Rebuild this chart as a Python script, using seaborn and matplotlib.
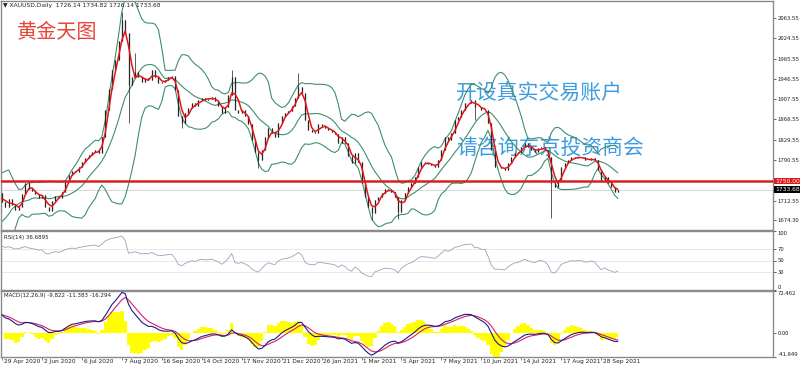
import numpy as np
import pandas as pd
import matplotlib
matplotlib.use("Agg")
import matplotlib.pyplot as plt
import matplotlib.transforms as mtrans
import seaborn as sns

sns.set_theme(style="white")
plt.rcParams['font.family'] = ['Noto Sans CJK SC', 'DejaVu Sans']

# ---------------- data (one value per two trading days) ----------------
# off-screen bars before the first visible bar (seed the indicators)
prior_closes = [1590, 1640, 1673, 1650, 1575, 1510, 1478, 1498, 1555, 1630,
                1620, 1590, 1620, 1648, 1680, 1727, 1717, 1690, 1713, 1727]

closes = [1710, 1700, 1715, 1705, 1694, 1700, 1725, 1746, 1735, 1730,
          1725, 1718, 1724, 1700, 1692, 1712, 1722, 1718, 1729, 1750,
          1762, 1770, 1768, 1778, 1786, 1795, 1800, 1805, 1810, 1804,
          1835, 1887, 1928, 1963, 1983, 2020, 2060, 2035, 1935, 1950,
          1960, 1950, 1940, 1948, 1944, 1963, 1950, 1938, 1940, 1945,
          1950, 1952, 1925, 1875, 1862, 1880, 1890, 1900, 1895, 1905,
          1910, 1906, 1908, 1912, 1904, 1895, 1881, 1893, 1915, 1950,
          1887, 1881, 1887, 1875, 1860, 1829, 1805, 1790, 1810, 1835,
          1852, 1842, 1835, 1862, 1875, 1880, 1885, 1895, 1910, 1931,
          1919, 1867, 1848, 1845, 1842, 1860, 1856, 1852, 1848, 1845,
          1840, 1823, 1835, 1823, 1798, 1784, 1804, 1786, 1746, 1720,
          1700, 1688, 1714, 1720, 1728, 1734, 1733, 1729, 1720, 1690,
          1714, 1727, 1739, 1746, 1758, 1777, 1786, 1785, 1783, 1780,
          1777, 1790, 1810, 1835, 1829, 1842, 1867, 1873, 1887, 1900,
          1900, 1906, 1893, 1893, 1887, 1887, 1862, 1810, 1777, 1777,
          1775, 1771, 1784, 1796, 1804, 1806, 1815, 1823, 1815, 1810,
          1806, 1813, 1815, 1810, 1796, 1746, 1739, 1752, 1777, 1784,
          1790, 1796, 1794, 1796, 1796, 1790, 1790, 1794, 1790, 1771,
          1752, 1758, 1746, 1739, 1729, 1733.68]

# long wicks that stand out in the picture
wick_bar = [36, 38, 40, 54, 69, 77, 89, 111, 119, 142, 165]
wick_end = [2075, 1862, 1996, 1852, 1963, 1775, 1958, 1676, 1678, 1867, 1680]

date_labels = ["29 Apr 2020", "2 Jun 2020", "6 Jul 2020", "7 Aug 2020",
               "16 Sep 2020", "14 Oct 2020", "17 Nov 2020", "21 Dec 2020",
               "26 Jan 2021", "1 Mar 2021", "5 Apr 2021", "7 May 2021",
               "10 Jun 2021", "14 Jul 2021", "17 Aug 2021", "28 Sep 2021"]

price_ticks = [2063.55, 2024.55, 1985.55, 1946.55, 1907.55, 1868.55,
               1829.55, 1790.55, 1712.55, 1674.30]
level_line = 1750.00
last_price = 1733.68
header = "\u25BC XAUUSD,Daily  1726.14 1734.82 1726.14 1733.68"
rsi_title = "RSI(14) 36.6895"
macd_title = "MACD(12,26,9) -9.822 -11.383 -16.294"
rsi_ticks = [100, 70, 50, 30, 0]
macd_top, macd_bottom = 72.462, -41.849

# ---------------- indicators ----------------
npre = len(prior_closes)
full = pd.Series(prior_closes + closes, dtype=float)
idx_full = np.arange(len(full)) - npre
df = pd.DataFrame({"i": idx_full, "close": full})
df["ma"] = full.rolling(3, min_periods=1).mean()
mid = full.rolling(12, min_periods=1).mean()
sd = full.rolling(12, min_periods=1).std(ddof=0)
df["bb_mid"], df["bb_up"], df["bb_lo"] = mid, mid + 2 * sd, mid - 2 * sd
delta = full.diff()
gain = delta.clip(lower=0).ewm(alpha=1 / 14, adjust=False).mean()
loss = (-delta.clip(upper=0)).ewm(alpha=1 / 14, adjust=False).mean()
df["rsi"] = 100 - 100 / (1 + gain / loss)
macd = full.ewm(span=6, adjust=False).mean() - full.ewm(span=13, adjust=False).mean()
signal = macd.ewm(span=4.5, adjust=False).mean()
df["macd"], df["signal"] = macd, signal
df["hist"] = 3 * (macd - signal)
vis = df[df["i"] >= 0].reset_index(drop=True)

# ---------------- figure ----------------
W, H = 800, 369
fig = plt.figure(figsize=(W / 100, H / 100), dpi=100)
fig.patch.set_facecolor("white")

def ax_px(x0, y0, x1, y1):
    return fig.add_axes([x0 / W, 1 - y1 / H, (x1 - x0) / W, (y1 - y0) / H])

ax = ax_px(1, 1, 773, 230)
axr = ax_px(1, 231, 773, 290)
axm = ax_px(1, 291, 773, 357)

XMIN, XMAX = -0.3, 231.6
spine_c = "#8a8a8a"
for a in (ax, axr, axm):
    a.set_facecolor("white")
    a.set_xlim(XMIN, XMAX)
    for s in a.spines.values():
        s.set_color(spine_c)
        s.set_linewidth(1.0)
    a.yaxis.tick_right()
    a.tick_params(axis="y", labelsize=4.3, length=2, pad=1.5, colors="#222222",
                  width=0.5, direction="out", right=True, left=False)
    a.tick_params(axis="x", bottom=False, labelbottom=False)
    a.grid(False)

# ----- main price panel -----
band_c = "#3f8f6e"
sns.lineplot(data=df, x="i", y="bb_up", ax=ax, color=band_c, lw=0.8, estimator=None)
sns.lineplot(data=df, x="i", y="bb_mid", ax=ax, color=band_c, lw=0.8, estimator=None)
sns.lineplot(data=df, x="i", y="bb_lo", ax=ax, color=band_c, lw=0.8, estimator=None)

opens = [prior_closes[-1]] + closes[:-1]
hi = [max(o, c) for o, c in zip(opens, closes)]
lo = [min(o, c) for o, c in zip(opens, closes)]
for b, w in zip(wick_bar, wick_end):
    hi[b] = max(hi[b], w)
    lo[b] = min(lo[b], w)
xs = np.arange(len(closes))
ax.vlines(xs, lo, hi, color="#1a1a1a", lw=0.5, zorder=3)
ax.vlines(xs, [min(o, c) for o, c in zip(opens, closes)],
          [max(o, c) for o, c in zip(opens, closes)], color="#262626", lw=0.9, zorder=3)
sns.lineplot(data=vis, x="i", y="ma", ax=ax, color="#e0161b", lw=1.1, estimator=None, zorder=4)

ax.axhline(level_line, color="#d92020", lw=1.8, zorder=5)
ax.axhline(last_price, color="#d8d8d8", lw=0.7, zorder=1)

PMAX = 2063.55 + 17 * 1.9225
PMIN = 2063.55 - 212 * 1.9225
ax.set_ylim(PMIN, PMAX)
ax.set_yticks(price_ticks)
ax.set_yticklabels([f"{v:.2f}" for v in price_ticks])
ax.set_xlabel("")
ax.set_ylabel("")

btrans = mtrans.blended_transform_factory(ax.transAxes, ax.transData)
ax.text(1.003, level_line, f"{level_line:.2f}", transform=btrans, fontsize=4.3, color="white",
        va="center", ha="left", family="DejaVu Sans",
        bbox=dict(boxstyle="square,pad=0.15", fc="#e01818", ec="none"), clip_on=False, zorder=10)
ax.text(1.003, last_price, f"{last_price:.2f}", transform=btrans, fontsize=4.3, color="white",
        va="center", ha="left", family="DejaVu Sans",
        bbox=dict(boxstyle="square,pad=0.15", fc="#000000", ec="none"), clip_on=False, zorder=10)

ax.text(3 / W, 1 - 5.5 / H, header, transform=fig.transFigure, fontsize=4.3, color="#222222",
        va="center", ha="left", family="DejaVu Sans", zorder=10)
ax.text(17 / W, 1 - 32 / H, "黄金天图", transform=fig.transFigure, fontsize=14.5,
        color="#e8453c", va="center", ha="left", zorder=0.5)
ax.text(456 / W, 1 - 93 / H, "开设真实交易账户", transform=fig.transFigure, fontsize=15,
        color="#3d9ce0", va="center", ha="left", zorder=0.5)
ax.text(456 / W, 1 - 148 / H, "请咨询东京投资商会", transform=fig.transFigure, fontsize=15,
        color="#3d9ce0", va="center", ha="left", zorder=0.5)

# ----- RSI panel -----
for lv in (70, 50, 30):
    axr.axhline(lv, color="#e4e4e4", lw=0.6, zorder=1)
sns.lineplot(data=vis, x="i", y="rsi", ax=axr, color="#97a3bd", lw=0.6, estimator=None)
axr.set_ylim(0, 100)
axr.set_yticks(rsi_ticks)
axr.set_yticklabels([str(v) for v in rsi_ticks])
rl = axr.get_yticklabels()
rl[0].set_va("top")
rl[-1].set_va("bottom")
axr.set_xlabel("")
axr.set_ylabel("")
axr.text(0.004, 0.93, rsi_title, transform=axr.transAxes, fontsize=4.0, color="#222222",
         va="top", ha="left", family="DejaVu Sans")

# ----- MACD panel -----
axm.fill_between(vis["i"], 0, vis["hist"], color="#ffff00", lw=0, step="mid", zorder=1)
sns.lineplot(data=vis, x="i", y="signal", ax=axm, color="#d8206a", lw=0.8, estimator=None, zorder=3)
sns.lineplot(data=vis, x="i", y="macd", ax=axm, color="#1c1c86", lw=0.8, estimator=None, zorder=4)
axm.set_ylim(macd_bottom, macd_top)
axm.set_yticks([macd_top, 0, macd_bottom])
axm.set_yticklabels([f"{macd_top:.3f}", "0.00", f"{macd_bottom:.3f}"])
ml = axm.get_yticklabels()
ml[0].set_va("top")
ml[-1].set_va("bottom")
axm.set_xlabel("")
axm.set_ylabel("")
axm.text(0.004, 0.97, macd_title, transform=axm.transAxes, fontsize=4.0, color="#222222",
         va="top", ha="left", family="DejaVu Sans")

# date axis
tick_pos = [12 * k for k in range(len(date_labels))]
axm.set_xticks(tick_pos)
axm.tick_params(axis="x", bottom=True, length=2, width=0.5, color="#555555",
                labelbottom=False)
for p, lab in zip(tick_pos, date_labels):
    axm.text(p + 0.5, -0.03, lab, transform=mtrans.blended_transform_factory(axm.transData, axm.transAxes),
             fontsize=4.2, color="#222222", va="top", ha="left", family="DejaVu Sans", clip_on=False)

fig.savefig("out.png", dpi=100, facecolor="white")
